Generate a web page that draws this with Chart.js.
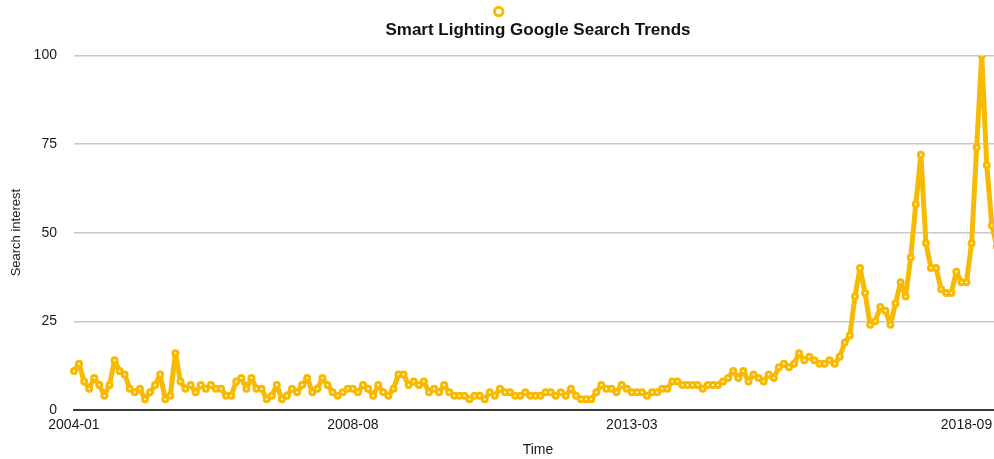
<!DOCTYPE html>
<html>
<head>
<meta charset="utf-8">
<script src="https://cdn.jsdelivr.net/npm/chart.js@4"></script>
<style>
  body { margin: 0; background: #fff; overflow: hidden; }
  #wrap { width: 994px; height: 459px; overflow: hidden; }
  #box { width: 1002px; height: 459px; }
</style>
</head>
<body>
<div id="wrap"><div id="box"><canvas id="trend-chart"></canvas></div></div>
<script>
// Monthly search interest, one array per year
const years = [2004, 2005, 2006, 2007, 2008, 2009, 2010, 2011, 2012, 2013, 2014, 2015, 2016, 2017, 2018, 2019];
const v2004 = [11, 13, 8, 6, 9, 7, 4, 7, 14, 11, 10, 6];
const v2005 = [5, 6, 3, 5, 7, 10, 3, 4, 16, 8, 6, 7];
const v2006 = [5, 7, 6, 7, 6, 6, 4, 4, 8, 9, 6, 9];
const v2007 = [6, 6, 3, 4, 7, 3, 4, 6, 5, 7, 9, 5];
const v2008 = [6, 9, 7, 5, 4, 5, 6, 6, 5, 7, 6, 4];
const v2009 = [7, 5, 4, 6, 10, 10, 7, 8, 7, 8, 5, 6];
const v2010 = [5, 7, 5, 4, 4, 4, 3, 4, 4, 3, 5, 4];
const v2011 = [6, 5, 5, 4, 4, 5, 4, 4, 4, 5, 5, 4];
const v2012 = [5, 4, 6, 4, 3, 3, 3, 5, 7, 6, 6, 5];
const v2013 = [7, 6, 5, 5, 5, 4, 5, 5, 6, 6, 8, 8];
const v2014 = [7, 7, 7, 7, 6, 7, 7, 7, 8, 9, 11, 9];
const v2015 = [11, 8, 10, 9, 8, 10, 9, 12, 13, 12, 13, 16];
const v2016 = [14, 15, 14, 13, 13, 14, 13, 15, 19, 21, 32, 40];
const v2017 = [33, 24, 25, 29, 28, 24, 30, 36, 32, 43, 58, 72];
const v2018 = [47, 40, 40, 34, 33, 33, 39, 36, 36, 47, 74, 100];
const v2019 = [69, 52, 46, 44];
const yearValues = [v2004, v2005, v2006, v2007, v2008, v2009, v2010, v2011, v2012, v2013, v2014, v2015, v2016, v2017, v2018, v2019];

// Tick labels shown on the time axis
const xTickLabels = ["2004-01", "2008-08", "2013-03", "2018-09"];

const lineColor = "rgb(247, 186, 0)";
const fontFamily = "'Liberation Sans', Arial, Helvetica, sans-serif";

// Build month labels and the flat series
const months = [];
const interest = [];
years.forEach((yr, i) => {
  yearValues[i].forEach((v, m) => {
    months.push(yr + "-" + String(m + 1).padStart(2, "0"));
    interest.push(v);
  });
});

Chart.defaults.font.family = fontFamily;
Chart.defaults.color = "#1a1a1a";

const chart = new Chart(document.getElementById("trend-chart"), {
  type: "line",
  data: {
    labels: months,
    datasets: [
      {
        label: "",
        data: interest,
        borderColor: lineColor,
        borderWidth: 5,
        borderJoinStyle: "round",
        pointRadius: 2.5,
        pointBorderWidth: 3,
        pointBackgroundColor: "#ffffff",
        pointBorderColor: lineColor,
        tension: 0,
      },
    ],
  },
  options: {
    responsive: true,
    maintainAspectRatio: false,
    animation: false,
    layout: { autoPadding: false },
    plugins: {
      legend: {
        weight: 3000,
        labels: { usePointStyle: true, boxHeight: 6, padding: 7, font: { size: 9 } },
      },
      title: {
        display: true,
        fullSize: false,
        text: "Smart Lighting Google Search Trends",
        color: "#111",
        font: { size: 17, weight: "bold" },
        padding: { top: -6, bottom: 15 },
      },
      tooltip: { enabled: false },
    },
    scales: {
      x: {
        grid: { display: false, drawTicks: true, tickLength: 7 },
        border: { display: true, color: "#3a3a3a", width: 2 },
        ticks: {
          autoSkip: false,
          maxRotation: 0,
          padding: 0,
          font: { size: 14 },
          callback: (val, i) => (xTickLabels.includes(months[i]) ? months[i] : ""),
        },
        title: { display: true, text: "Time", font: { size: 14 }, padding: { top: 8.5, bottom: 0 } },
      },
      y: {
        min: 0,
        max: 100,
        ticks: { stepSize: 25, padding: 0, font: { size: 14 } },
        grid: { color: "#c8c8c8", lineWidth: 1.5, drawTicks: true, tickLength: 17, tickColor: "rgba(0,0,0,0)" },
        border: { display: false },
        title: { display: true, text: "Search interest", font: { size: 13 }, padding: { top: 9, bottom: 9 } },
      },
    },
  },
});
</script>
</body>
</html>
